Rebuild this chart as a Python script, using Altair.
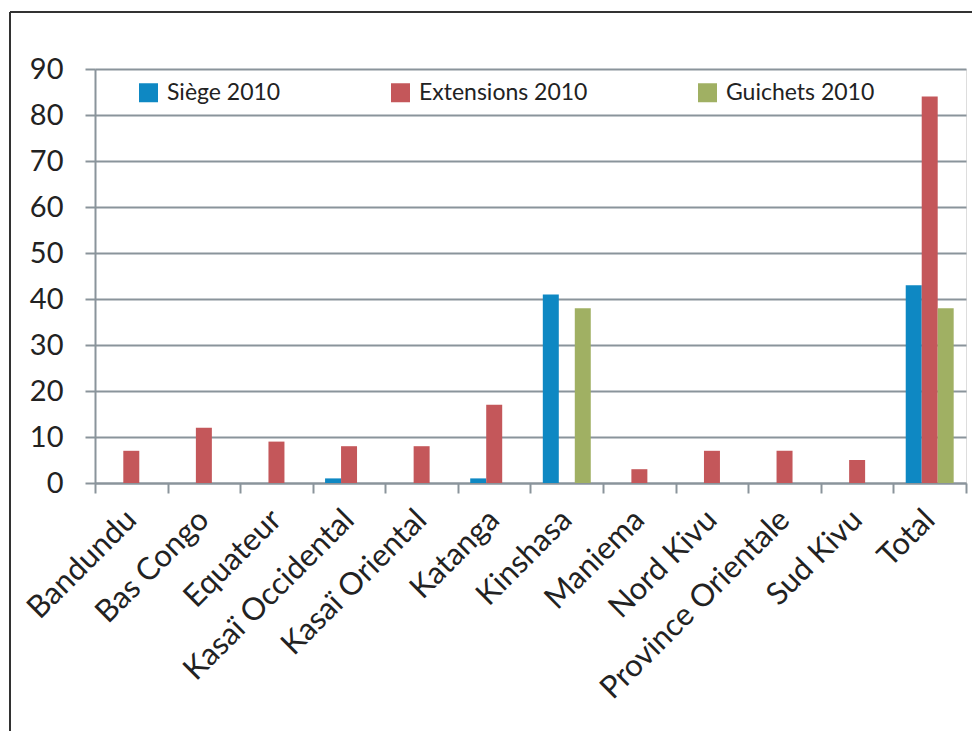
import altair as alt
import pandas as pd

categories = ["Bandundu", "Bas Congo", "Equateur", "Kasaï Occidental", "Kasaï Oriental",
              "Katanga", "Kinshasa", "Maniema", "Nord Kivu", "Province Orientale",
              "Sud Kivu", "Total"]
series = ["Siège 2010", "Extensions 2010", "Guichets 2010"]
siege = [0, 0, 0, 1, 0, 1, 41, 0, 0, 0, 0, 43]
extensions = [7, 12, 9, 8, 8, 17, 0, 3, 7, 7, 5, 84]
guichets = [0, 0, 0, 0, 0, 0, 38, 0, 0, 0, 0, 38]
colors = ["#0E88C3", "#C4575A", "#A0B063"]

rows = []
for name, vals in zip(series, [siege, extensions, guichets]):
    for c, v in zip(categories, vals):
        rows.append({"cat": c, "series": name, "value": v})
df = pd.DataFrame(rows)

W, H = 871, 414
FONT = "Lato"
GRAY = "#8A949B"

bars = alt.Chart(df).transform_filter("datum.value > 0").mark_bar().encode(
    x=alt.X("cat:N", sort=categories, title=None,
            scale=alt.Scale(paddingInner=0, paddingOuter=0),
            axis=alt.Axis(labelAngle=-45, labelAlign="right", labelBaseline="middle",
                          labelFontSize=31, labelFont=FONT, labelColor="#222222",
                          labelPadding=22, labelLimit=400, tickBand="extent", tickSize=10,
                          tickColor=GRAY, tickWidth=2, domainColor=GRAY, domainWidth=2,
                          grid=False)),
    xOffset=alt.XOffset("series:N", sort=series,
                        scale=alt.Scale(paddingInner=0, paddingOuter=0.77)),
    y=alt.Y("value:Q", title=None,
            scale=alt.Scale(domain=[0, 90], nice=False),
            axis=alt.Axis(values=list(range(0, 91, 10)), labelFontSize=29, labelFont=FONT,
                          labelColor="#222222", labelPadding=22, tickSize=10,
                          tickColor=GRAY, tickWidth=2, domainColor=GRAY, domainWidth=2,
                          gridColor=GRAY, gridWidth=2, gridOpacity=1)),
    color=alt.Color("series:N", sort=series,
                    scale=alt.Scale(domain=series, range=colors),
                    legend=alt.Legend(title=None, orient="none", direction="horizontal",
                                      legendX=42, legendY=12, symbolType="square",
                                      symbolSize=361, symbolStrokeWidth=0,
                                      labelFontSize=23, labelFont=FONT, labelColor="#222222",
                                      labelOffset=7, columnPadding=108, padding=0,
                                      labelLimit=400)),
)

frame_left = alt.Chart(df).mark_rule(color="#333333", strokeWidth=1.5).encode(
    x=alt.value(-85), y=alt.value(-57), y2=alt.value(H + 300))
frame_top = alt.Chart(df).mark_rule(color="#333333", strokeWidth=1.5).encode(
    x=alt.value(-85), x2=alt.value(W + 100), y=alt.value(-57))

chart = alt.layer(bars, frame_left, frame_top).properties(
    width=W, height=H,
    autosize=alt.AutoSizeParams(type="none"),
    padding={"left": 95, "top": 69, "right": 6, "bottom": 248},
).configure_view(stroke=None).configure(background="white")

chart.save("out.html", embed_options={"renderer": "svg", "actions": False})
